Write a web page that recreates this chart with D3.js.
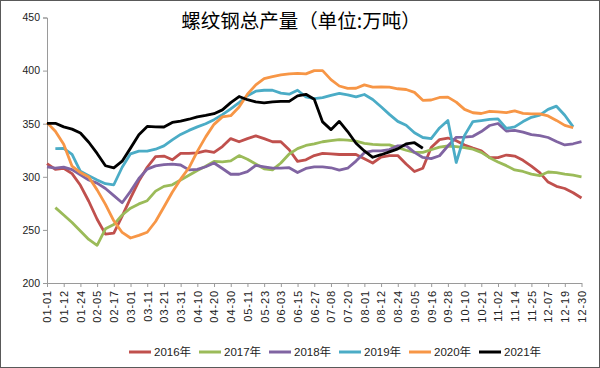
<!DOCTYPE html>
<html><head><meta charset="utf-8">
<script src="https://cdn.jsdelivr.net/npm/d3@7"></script>
<style>
html,body{margin:0;padding:0;background:#fff;}
svg{display:block;}
</style></head>
<body>
<svg id="chart" width="600" height="368"></svg>
<script>
const title = "螺纹钢总产量（单位:万吨）";
const dates = ["01-01","01-06","01-12","01-18","01-24","01-30","02-05","02-11","02-17","02-23",
"03-01","03-06","03-11","03-16","03-21","03-26","03-31","04-05","04-10","04-15",
"04-20","04-25","04-30","05-05","05-11","05-17","05-23","05-29","06-03","06-09",
"06-15","06-21","06-27","07-02","07-08","07-14","07-20","07-26","08-01","08-06",
"08-12","08-18","08-24","08-30","09-05","09-10","09-16","09-22","09-28","10-04",
"10-10","10-15","10-21","10-27","11-02","11-08","11-14","11-19","11-25","12-01",
"12-07","12-13","12-19","12-24","12-30"];
const tickLabels = dates.filter((d,i)=>i%2===0);
const yTicks = [200,250,300,350,400,450];
const seriesNames = ["2016年","2017年","2018年","2019年","2020年","2021年"];
const s2016 = [312.5,307,308,303,292,277,260,246,247,263,280,296,309,319,319.5,316,322,322,322.5,324.5,323,328.5,336,333,336,338.5,336,333,333,325.5,314.5,316,320,322,321.5,321,321,321,317,313,318.5,320,320,312,305,308,327.5,335,336.5,334,330,327,324.5,318,318,320.5,319.5,315.5,310,304,295,291,289,285,280];
const s2017 = [null,271,264,257,249,241,235.5,251,255,264,270.5,274.5,277.5,286.5,291,292.5,297,301.5,306,310,314.5,314,315,320,316.5,312,307.5,306.5,313,321.5,326.5,329.5,331,333,334,335,334.5,333.5,331.5,330.5,330,330,327.5,325,323,323,325.5,328,329,328.5,327.5,326,323,318,314,310.5,306.5,305,302.5,301,304.5,304,302.5,301.5,300];
const s2018 = [309.3,308.1,309.1,306.8,301.8,297,294,289,282.3,275.6,286.3,298.4,307.2,310.3,311.5,312,311.1,306.5,307,309.5,313,307.8,302.4,302.4,304.9,310.7,309.4,308.1,308.2,308.6,304,307.9,309.3,309.3,308.5,306.2,308.1,314.8,322.7,324.4,324.4,325.7,329.2,329.3,323,318.2,317.1,319.8,329,337.2,337.3,338.1,342.6,348.3,350.2,343.1,343.7,342.1,339.7,338.7,337,333.3,330,331.1,333.2];
const s2019 = [null,326.6,326.8,321.1,305.2,301.1,297,293.5,292.5,309,321.6,324.1,324.2,326,329.1,334.8,339.9,343.7,347,350,353.8,358.5,363.9,369.9,376.3,380.6,381.5,381.5,378.8,377.8,381.5,375.3,373.6,374.5,376.7,378.5,377.2,375.2,377.5,372.8,365.9,358.8,352.2,348.6,341.5,337,336,346,353,313.5,339,352,353,354,354.5,345.5,347,352,356,358,363.5,366.5,358,347,null];
const s2020 = [351,342.9,330.7,310,304,299.8,287.7,274,258.6,247.6,242.4,244.9,247.8,257.9,271.6,285.5,297.8,308.5,323.9,337.6,349.4,356.4,357.5,365.8,377.8,386.6,392.5,394.4,395.9,397,397.4,396.9,400,400,391.5,385.5,383.2,383.4,386.6,384.5,384.6,384.5,382.9,382.2,379.5,372,372.3,374.7,375,370.3,363.5,360.3,359.6,361.7,361.2,360.4,362.1,359.7,359.2,359.3,357.3,353.1,348.4,346.2,null];
const s2021 = [350.4,350.4,347,344.9,341.2,332.5,322,310.4,308.4,314.7,327,339.7,347.4,347,346.9,351.2,352.5,354.2,356.5,357.8,359.4,363,369.8,375.6,372.6,370.5,369.6,370.6,371,371,376.2,377.7,373.1,351.7,344.4,352.2,342.6,331.6,324.3,318.4,320.8,323.5,326.3,331,332.1,326.9];
const colors = ["#C0504D","#9BBB59","#8064A2","#4BACC6","#F79646","#000000"];

const allSeries = [s2016,s2017,s2018,s2019,s2020,s2021];
const svg = d3.select("#chart");
const W = 600, H = 368;
svg.append("rect").attr("x",0.5).attr("y",0.5).attr("width",W-1).attr("height",H-1)
  .attr("fill","#fff").attr("stroke","#595959").attr("stroke-width",1);

const x = d3.scalePoint().domain(dates).range([47, 581.5]);
const y = d3.scaleLinear().domain([200,450]).range([283, 17.5]);

// title
svg.append("text").attr("x",301).attr("y",28).attr("text-anchor","middle")
  .attr("font-family","'Noto Sans CJK SC', sans-serif").attr("font-size",19.5)
  .attr("fill","#000").text(title);

// y axis
const yAxis = svg.append("g").attr("transform","translate(47,0)")
  .call(d3.axisLeft(y).tickValues(yTicks).tickSize(4).tickPadding(3));
yAxis.selectAll("path,line").attr("stroke","#9a9a9a");
yAxis.selectAll("text").attr("font-family","'Liberation Sans', Arial, sans-serif")
  .attr("font-size",10.5).attr("fill","#222");

// x axis
const xAxis = svg.append("g").attr("transform","translate(0,283)")
  .call(d3.axisBottom(x).tickValues(tickLabels).tickSize(4).tickSizeOuter(0));
xAxis.selectAll("path,line").attr("stroke","#9a9a9a");
xAxis.selectAll("text")
  .attr("font-family","'Liberation Sans', Arial, sans-serif").attr("font-size",11)
  .attr("letter-spacing","0.9px").attr("fill","#222")
  .attr("text-anchor","end").attr("dy","0.35em")
  .attr("transform","translate(0,7) rotate(-90)")
  .attr("x",0).attr("y",0);

// lines
const line = d3.line().defined(d=>d.v!=null).x(d=>x(d.d)).y(d=>y(d.v));
allSeries.forEach((s,k)=>{
  const pts = s.map((v,i)=>({d:dates[i], v:v}));
  svg.append("path").datum(pts).attr("d",line)
    .attr("fill","none").attr("stroke",colors[k]).attr("stroke-width",2.8)
    .attr("stroke-linejoin","round");
});

// legend
const lg = svg.append("g").attr("transform","translate(129,352)");
seriesNames.forEach((n,k)=>{
  const g = lg.append("g").attr("transform",`translate(${k*70},0)`);
  g.append("line").attr("x1",0).attr("x2",22).attr("y1",0).attr("y2",0)
    .attr("stroke",colors[k]).attr("stroke-width",3);
  g.append("text").attr("x",25).attr("y",0).attr("dy","0.35em")
    .attr("font-family","'Liberation Sans', 'Noto Sans CJK SC', sans-serif").attr("font-size",11.5)
    .attr("fill","#222").text(n);
});
</script>
</body></html>
